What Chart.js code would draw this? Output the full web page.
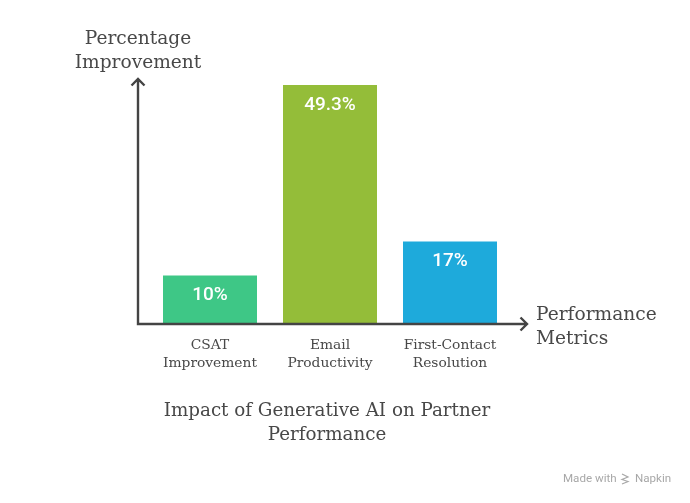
<!DOCTYPE html>
<html>
<head>
<meta charset="utf-8">
<title>Impact of Generative AI on Partner Performance</title>
<script src="https://cdn.jsdelivr.net/npm/chart.js@4"></script>
<style>
  html, body { margin: 0; padding: 0; background: #fff; }
  canvas { display: block; }
</style>
</head>
<body>
<canvas id="chart_partnerPerformance" width="690" height="503"></canvas>
<script>
// data
const categories = [['CSAT', 'Improvement'], ['Email', 'Productivity'], ['First-Contact', 'Resolution']];
const improvementValues = [10, 49.3, 17];
const valueLabels = ['10%', '49.3%', '17%'];
const barColors = ['#3EC786', '#94BD39', '#1EAADB'];
const yAxisTitle = ['Percentage', 'Improvement'];
const xAxisTitle = ['Performance', 'Metrics'];
const chartTitle = ['Impact of Generative AI on Partner', 'Performance'];

const slab = '"DejaVu Serif", serif';
const textColor = '#484848';
const axisColor = '#444444';

function drawLines(ctx, lines, x, y, lineHeight) {
  lines.forEach((line, i) => ctx.fillText(line, x, y + i * lineHeight));
}

const decorations = {
  id: 'decorations',
  afterDraw: (chart) => {
    const ctx = chart.ctx;
    const area = chart.chartArea;
    const axisX = area.left - 12;
    const axisY = area.bottom;
    ctx.save();

    // axis arrows
    ctx.strokeStyle = axisColor;
    ctx.lineWidth = 2.4;
    ctx.beginPath();
    ctx.moveTo(axisX, 79);
    ctx.lineTo(axisX, axisY);
    ctx.lineTo(527, axisY);
    ctx.moveTo(axisX - 6.5, 85.5);
    ctx.lineTo(axisX, 79);
    ctx.lineTo(axisX + 6.5, 85.5);
    ctx.moveTo(520.5, axisY - 6.5);
    ctx.lineTo(527, axisY);
    ctx.lineTo(520.5, axisY + 6.5);
    ctx.stroke();

    // value labels inside the bars
    ctx.fillStyle = '#ffffff';
    ctx.font = '500 19px Roboto';
    ctx.textAlign = 'center';
    ctx.textBaseline = 'middle';
    chart.getDatasetMeta(0).data.forEach((bar, i) => {
      ctx.fillText(valueLabels[i], bar.x, bar.y + 20);
    });

    // axis titles and chart title
    ctx.fillStyle = textColor;
    ctx.font = '18.6px ' + slab;
    drawLines(ctx, yAxisTitle, 138, 39, 24);
    ctx.textAlign = 'left';
    drawLines(ctx, xAxisTitle, 536, 315, 24);
    ctx.textAlign = 'center';
    ctx.font = '18.3px ' + slab;
    drawLines(ctx, chartTitle, 327, 411, 24);

    // footer
    ctx.fillStyle = '#a8a8a8';
    ctx.font = '11.6px Roboto';
    ctx.textAlign = 'left';
    ctx.fillText('Made with', 563, 479);
    ctx.fillText('Napkin', 635, 479);
    ctx.strokeStyle = '#a8a8a8';
    ctx.lineWidth = 1.2;
    ctx.beginPath();
    ctx.moveTo(622, 474);
    ctx.lineTo(628, 477);
    ctx.lineTo(622, 479.5);
    ctx.lineTo(628, 481.5);
    ctx.lineTo(622, 484);
    ctx.stroke();

    ctx.restore();
  }
};

const chart_partnerPerformance = new Chart(document.getElementById('chart_partnerPerformance'), {
  type: 'bar',
  data: {
    labels: categories,
    datasets: [{
      label: 'Percentage Improvement',
      data: improvementValues,
      backgroundColor: barColors,
      borderWidth: 0,
      barPercentage: 1,
      categoryPercentage: 94 / 120
    }]
  },
  options: {
    animation: false,
    responsive: false,
    layout: { padding: { left: 150, right: 180, top: 81.5, bottom: 0 } },
    plugins: {
      legend: { display: false },
      title: { display: false },
      tooltip: { enabled: false }
    },
    scales: {
      x: {
        grid: { display: false },
        border: { display: false },
        afterFit: (scale) => { scale.height = 179; },
        ticks: {
          color: textColor,
          font: { family: slab, size: 13.8, lineHeight: 1.32 },
          padding: 4,
          maxRotation: 0,
          autoSkip: false
        }
      },
      y: {
        display: false,
        min: 0,
        max: 50
      }
    }
  },
  plugins: [decorations]
});
</script>
</body>
</html>
